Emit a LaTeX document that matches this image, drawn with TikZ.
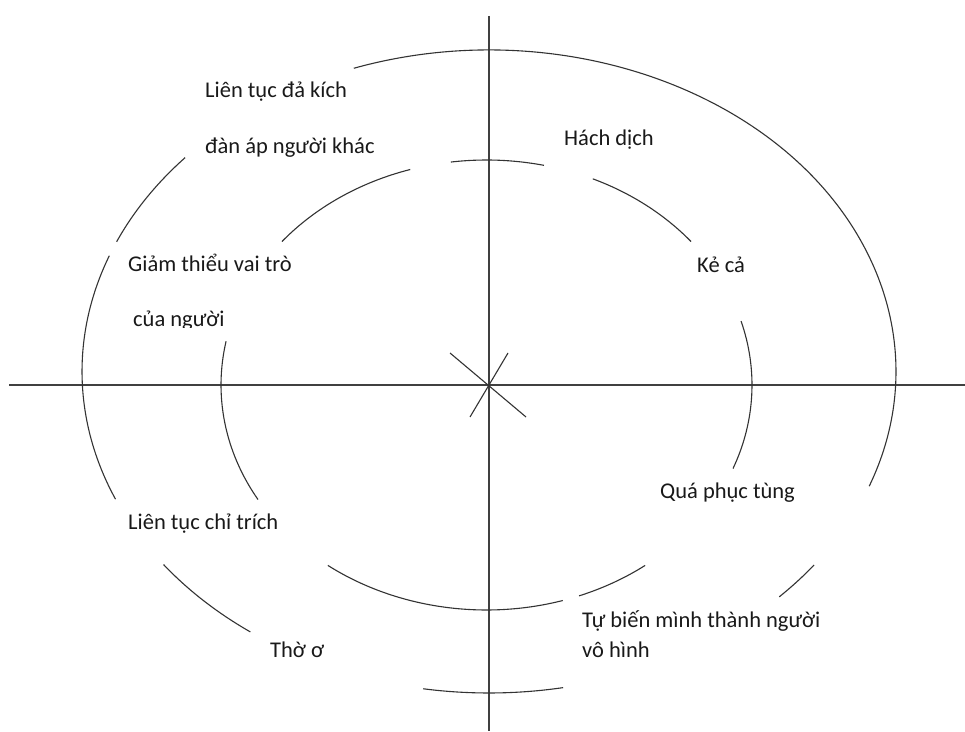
\documentclass[tikz,border=0pt]{standalone}
\usepackage{fontspec}
\setmainfont{Carlito}
\begin{document}
\begin{tikzpicture}[x=1pt,y=1pt,
  axis/.style={draw=black!75,line width=1.4pt},
  ell/.style={draw=black!80,line width=1.1pt},
  lbl/.style={anchor=base west,inner sep=0pt,text=black!90,font=\fontsize{22.5}{27}\selectfont}]
\useasboundingbox (0,0) rectangle (965,731);
\fill[white] (0,0) rectangle (965,731);
\newcommand\myOuterArc[2]{\draw[ell] (489pt,359.5pt) ++(#1:407pt and 321.5pt) arc[start angle=#1,end angle=#2,x radius=407pt,y radius=321.5pt];}
\newcommand\myInnerArc[2]{\draw[ell] (486.5pt,346pt) ++(#1:265.5pt and 225pt) arc[start angle=#1,end angle=#2,x radius=265.5pt,y radius=225pt];}
% axes
\coordinate (vt) at (489,715);
\coordinate (vb) at (489,0);
\coordinate (hl) at (9,346);
\coordinate (hr) at (965,346);
\draw[axis] (vt) -- (vb);
\draw[axis] (hl) -- (hr);
% centre cross
\coordinate (x1a) at (450,378);
\coordinate (x1b) at (526,314);
\coordinate (x2a) at (508,378);
\coordinate (x2b) at (470,314);
\draw[ell] (x1a) -- (x1b);
\draw[ell] (x2a) -- (x2b);
% outer ellipse pieces
\myOuterArc{109.4}{-20.9}
\myOuterArc{-37.0}{-44.5}
\myOuterArc{-79.5}{-99.3}
\myOuterArc{234.1}{216.9}
\myOuterArc{203.4}{158.9}
\myOuterArc{156.2}{138.3}
% inner ellipse pieces
\myInnerArc{97.7}{77.5}
\myInnerArc{106.7}{140.4}
\myInnerArc{66.4}{39.6}
\myInnerArc{16.5}{-21.8}
\myInnerArc{-53.3}{-69.6}
\myInnerArc{-73.3}{-126.7}
\myInnerArc{210.6}{168.8}
% labels
\node[lbl] (t1) at (205,633) {Liên tục đả kích};
\node[lbl] (t2) at (205,577) {đàn áp người khác};
\node[lbl] (t3) at (564,585) {Hách dịch};
\node[lbl] (t4) at (697,458) {Kẻ cả};
\node[lbl] (t5) at (128,459) {Giảm thiểu vai trò};
\begin{scope}
\clip (0,403.5) rectangle (965,731);
\node[lbl] (t6) at (133,404.5) {của người};
\end{scope}
\node[lbl] (t7) at (128,202) {Liên tục chỉ trích};
\node[lbl] (t8) at (270,74) {Thờ ơ};
\node[lbl] (t9) at (660,233) {Quá phục tùng};
\node[lbl] (t10) at (582,104) {Tự biến mình thành người};
\node[lbl] (t11) at (582,74) {vô hình};
\end{tikzpicture}
\end{document}
